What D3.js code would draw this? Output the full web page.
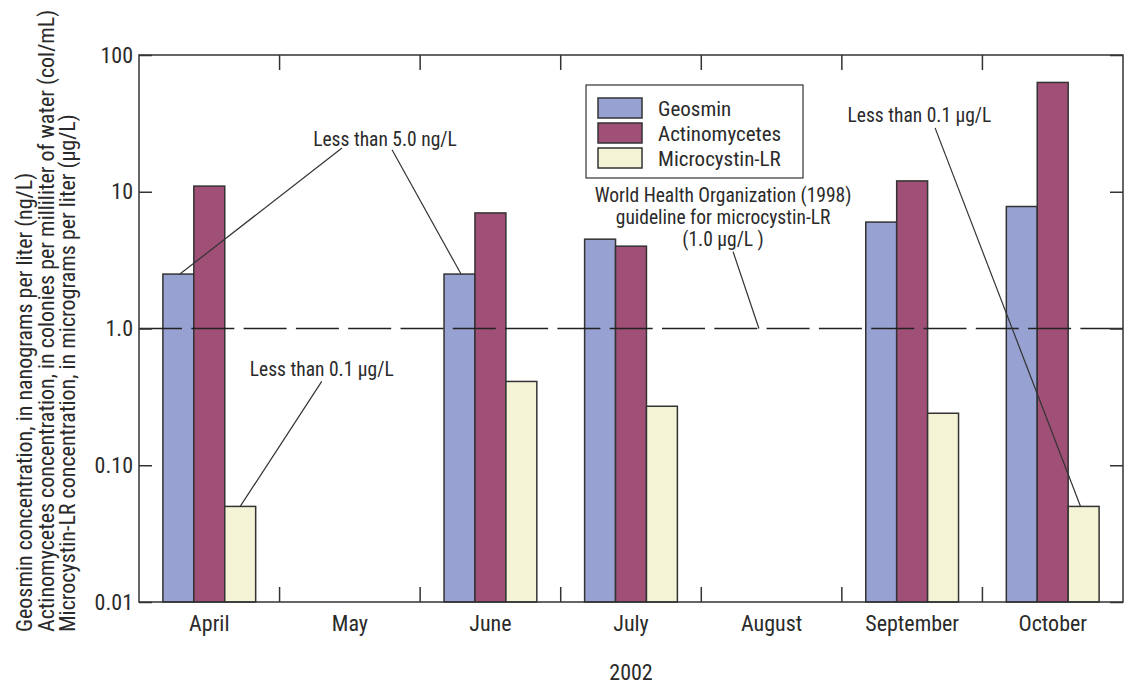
<!DOCTYPE html>
<html lang="en">
<head>
    <title>Geosmin, Actinomycetes and Microcystin-LR, 2002</title>
    <script src="https://d3js.org/d3.v7.min.js"></script>
    <style>
        body { margin: 0; background: #fff; }
        text { font-family: "Liberation Sans Narrow", "Arial Narrow", "Roboto Condensed", Roboto, sans-serif; fill: #2a2a2a; }
    </style>
</head>
<body>
<script>
    // Data
    const months = ["April", "May", "June", "July", "August", "September", "October"];
    const seriesNames = ["Geosmin", "Actinomycetes", "Microcystin-LR"];
    const geosmin       = [2.5, null, 2.5, 4.5, null, 6.0, 7.8];
    const actinomycetes = [11, null, 7.0, 4.0, null, 12, 63];
    const microcystin   = [0.05, null, 0.41, 0.27, null, 0.24, 0.05];
    const yTicks      = [0.01, 0.1, 1, 10, 100];
    const yTickLabels = ["0.01", "0.10", "1.0", "10", "100"];
    const guideline = 1.0;
    const yearLabel = "2002";
    const yTitle = [
        "Geosmin concentration, in nanograms per liter (ng/L)",
        "Actinomycetes concentration, in colonies per milliliter of water (col/mL)",
        "Microcystin-LR concentration, in micrograms per liter (\u00b5g/L)"
    ];

    // Dimensions
    const width = 1130, height = 687;
    const margin = { top: 55, right: 7, bottom: 85, left: 139 };
    const w = width - margin.left - margin.right;
    const h = height - margin.top - margin.bottom;

    const colors = { "Geosmin": "#98a2d2", "Actinomycetes": "#a05076", "Microcystin-LR": "#f4f3d5" };
    const seriesValues = { "Geosmin": geosmin, "Actinomycetes": actinomycetes, "Microcystin-LR": microcystin };

    const svg = d3.select("body").append("svg")
        .attr("width", width)
        .attr("height", height);
    const g = svg.append("g")
        .attr("transform", `translate(${margin.left},${margin.top})`);

    // Scales
    const x = d3.scaleBand().domain(months).range([0, w]).paddingInner(0.34).paddingOuter(0.17);
    const xs = d3.scaleBand().domain(seriesNames).range([0, x.bandwidth()]);
    const y = d3.scaleLog().domain([0.01, 100]).range([h, 0]);
    // continuous month units, used for placing notes and the legend
    const mx = d3.scaleLinear().domain([0, months.length]).range([0, w]);

    // Bars
    const barData = [];
    seriesNames.forEach(s => {
        seriesValues[s].forEach((v, i) => {
            if (v != null) barData.push({ month: months[i], series: s, value: v });
        });
    });
    g.selectAll("rect.bar")
        .data(barData)
        .enter()
        .append("rect")
        .attr("class", "bar")
        .attr("x", d => x(d.month) + xs(d.series))
        .attr("y", d => y(d.value))
        .attr("width", xs.bandwidth())
        .attr("height", d => h - y(d.value))
        .attr("fill", d => colors[d.series])
        .attr("stroke", "#333")
        .attr("stroke-width", 1.5);

    // Guideline (dashed)
    g.append("line")
        .attr("x1", 0).attr("x2", w)
        .attr("y1", y(guideline)).attr("y2", y(guideline))
        .attr("stroke", "#222")
        .attr("stroke-width", 1.4)
        .attr("stroke-dasharray", "43,9.3");

    // Frame
    g.append("rect")
        .attr("width", w).attr("height", h)
        .attr("fill", "none")
        .attr("stroke", "#333")
        .attr("stroke-width", 1.5);

    // Left axis (inward ticks)
    const yAxis = g.append("g")
        .call(d3.axisLeft(y).tickValues(yTicks).tickSizeInner(-13).tickSizeOuter(0)
            .tickFormat((d, i) => yTickLabels[i]));
    yAxis.select(".domain").remove();
    yAxis.selectAll(".tick line").attr("stroke", "#333").attr("stroke-width", 1.5);
    yAxis.selectAll(".tick text").attr("x", -6).style("font-size", "22px").attr("fill", "#2a2a2a");

    // Right axis (inward ticks)
    const yAxisR = g.append("g")
        .attr("transform", `translate(${w},0)`)
        .call(d3.axisRight(y).tickValues(yTicks).tickSizeInner(-13).tickSizeOuter(0).tickFormat(""));
    yAxisR.select(".domain").remove();
    yAxisR.selectAll(".tick line").attr("stroke", "#333").attr("stroke-width", 1.5);

    // Month boundary ticks, top and bottom
    const bounds = months.slice(1).map(m => x(m) - x.step() * x.paddingInner() / 2);
    g.selectAll("line.btick")
        .data(bounds)
        .enter()
        .append("line")
        .attr("x1", d => d).attr("x2", d => d)
        .attr("y1", h).attr("y2", h - 15)
        .attr("stroke", "#333").attr("stroke-width", 1.5);
    g.selectAll("line.ttick")
        .data(bounds)
        .enter()
        .append("line")
        .attr("x1", d => d).attr("x2", d => d)
        .attr("y1", 0).attr("y2", 15)
        .attr("stroke", "#333").attr("stroke-width", 1.5);

    // Bottom axis labels
    const xAxis = g.append("g")
        .attr("transform", `translate(0,${h})`)
        .call(d3.axisBottom(x).tickSize(0).tickPadding(13));
    xAxis.select(".domain").remove();
    xAxis.selectAll(".tick text").style("font-size", "22px").attr("fill", "#2a2a2a");

    // Year label
    g.append("text")
        .attr("x", w / 2)
        .attr("y", h + 78)
        .attr("text-anchor", "middle")
        .style("font-size", "22px")
        .text(yearLabel);

    // Y axis title (three lines)
    svg.append("g")
        .attr("transform", "translate(32,632) rotate(-90)")
        .selectAll("text")
        .data(yTitle)
        .enter()
        .append("text")
        .attr("x", 0)
        .attr("y", (d, i) => i * 21.5)
        .style("font-size", "22px")
        .text(d => d);

    // Legend
    const legend = g.append("g").attr("transform", `translate(${mx(3.18)},30)`);
    legend.append("rect")
        .attr("width", 217).attr("height", 93)
        .attr("fill", "#fff").attr("stroke", "#333").attr("stroke-width", 1.2);
    const li = legend.selectAll("g.item")
        .data(seriesNames)
        .enter()
        .append("g")
        .attr("transform", (d, i) => `translate(12,${13 + i * 25})`);
    li.append("rect")
        .attr("width", 44).attr("height", 20)
        .attr("fill", d => colors[d])
        .attr("stroke", "#333").attr("stroke-width", 1.5);
    li.append("text")
        .attr("x", 60).attr("y", 17.5)
        .style("font-size", "21px")
        .text(d => d);

    // Annotations: leader lines end on bars, labels placed in data space (month units, value)
    const barX = (month, s, f) => x(month) + xs(s) + f * xs.bandwidth();

    function label(lines, cx, vy, size, lh) {
        const t = g.append("text")
            .attr("x", mx(cx)).attr("y", y(vy))
            .attr("text-anchor", "middle")
            .style("font-size", size + "px");
        lines.forEach((l, i) => t.append("tspan").attr("x", mx(cx)).attr("dy", i === 0 ? 0 : lh).text(l));
    }
    function leader(x1, y1, x2, y2) {
        g.append("line")
            .attr("x1", x1).attr("y1", y1).attr("x2", x2).attr("y2", y2)
            .attr("stroke", "#333").attr("stroke-width", 1.2);
    }

    // Less than 5.0 ng/L
    label(["Less than 5.0 ng/L"], 1.75, 21.7, 19.5);
    leader(mx(1.444), y(20.9), barX("April", "Geosmin", 0.55), y(geosmin[0]));
    leader(mx(1.80), y(20.3), barX("June", "Geosmin", 0.55), y(geosmin[2]));

    // Less than 0.1 ug/L (April)
    label(["Less than 0.1 \u00b5g/L"], 1.3, 0.447, 19.5);
    leader(mx(1.3), y(0.41), barX("April", "Microcystin-LR", 0.5), y(microcystin[0]));

    // Less than 0.1 ug/L (October)
    label(["Less than 0.1 \u00b5g/L"], 5.552, 32.4, 19.5);
    leader(mx(5.663), y(29.3), barX("October", "Microcystin-LR", 0.4), y(microcystin[6]));

    // WHO guideline
    label(["World Health Organization (1998)", "guideline for microcystin-LR", "(1.0 \u00b5g/L )"], 4.155, 8.45, 19.5, 22);
    leader(mx(4.226), y(3.65), mx(4.41), y(guideline));
</script>
</body>
</html>
